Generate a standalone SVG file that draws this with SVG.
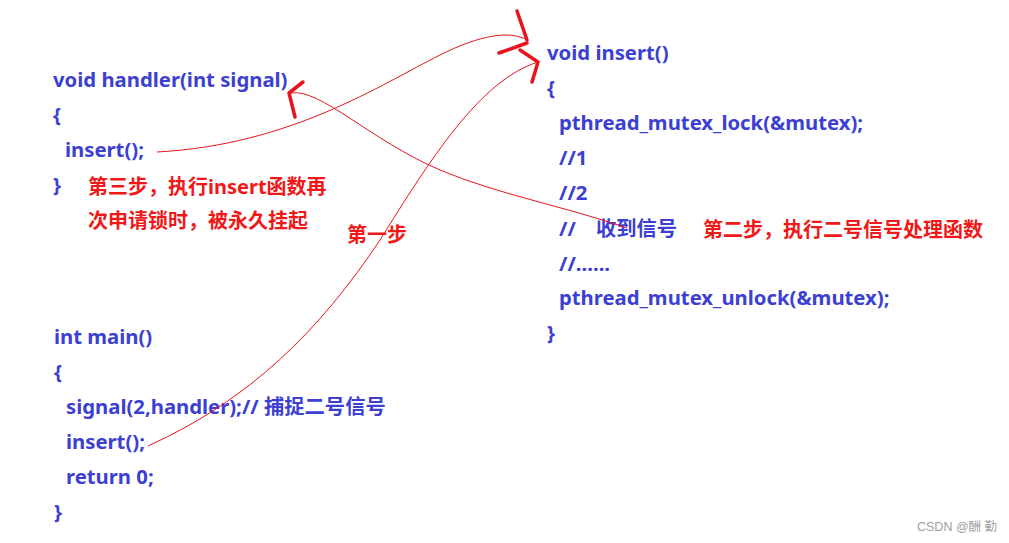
<svg xmlns="http://www.w3.org/2000/svg" width="1009" height="543" viewBox="0 0 1009 543">
<style>
.c{font-family:"Noto Sans","Noto Sans CJK SC",sans-serif;font-weight:bold;font-size:20.3px;fill:#3c40d2}
.r{font-family:"Noto Sans","Noto Sans CJK SC",sans-serif;font-weight:bold;font-size:20px;fill:#f01818}
.thin{fill:none;stroke:#e8141c;stroke-width:1}
.thick{fill:none;stroke:#e8141c;stroke-width:3.5;stroke-linecap:round;stroke-linejoin:round}
.wm{font-family:"Liberation Sans","Noto Sans CJK SC",sans-serif;font-size:12.5px;fill:#a0a0a0}
</style>
<rect width="1009" height="543" fill="#ffffff"/>
<g id="handler">
<text class="c" x="53" y="87">void handler(int signal)</text>
<text class="c" x="53" y="122">{</text>
<text class="c" x="65" y="157">insert();</text>
<text class="c" x="53" y="192">}</text>
</g>
<g id="step3">
<text class="r" x="88" y="194">第三步，执行insert函数再</text>
<text class="r" x="88" y="228">次申请锁时，被永久挂起</text>
</g>
<g id="step1">
<text class="r" x="347" y="242">第一步</text>
</g>
<g id="main">
<text class="c" x="54" y="344">int main()</text>
<text class="c" x="54" y="379">{</text>
<text class="c" x="66" y="414">signal(2,handler);// 捕捉二号信号</text>
<text class="c" x="66" y="449">insert();</text>
<text class="c" x="66" y="484">return 0;</text>
<text class="c" x="54" y="519">}</text>
</g>
<g id="insert">
<text class="c" x="547" y="60">void insert()</text>
<text class="c" x="547" y="95">{</text>
<text class="c" x="559" y="130">pthread_mutex_lock(&amp;mutex);</text>
<text class="c" x="559" y="165">//1</text>
<text class="c" x="559" y="200">//2</text>
<text class="c" x="559" y="236">//</text>
<text class="c" x="596" y="236">收到信号</text>
<text class="c" x="559" y="271">//......</text>
<text class="c" x="559" y="305">pthread_mutex_unlock(&amp;mutex);</text>
<text class="c" x="547" y="340">}</text>
</g>
<g id="step2">
<text class="r" x="703" y="237">第二步，执行二号信号处理函数</text>
</g>
<g id="connectors">
<path class="thin" d="M157,152 C290,145 380,85 440,55 C480,35 510,30 527,40"/>
<path class="thin" d="M148,446 C250,400 320,330 380,240 C430,160 480,80 538,62"/>
<path class="thin" d="M291,93 C320,88 370,140 440,170 C500,195 560,205 627,228"/>
<path class="thick" d="M517,11 L527,40"/>
<path class="thick" d="M499,53 L527,43"/>
<path class="thick" d="M520,50 L538,62 L532,82"/>
<path class="thick" d="M303,82 L289,93 L295,117"/>
</g>
<text class="wm" x="917" y="531">CSDN @酬 勤</text>
</svg>
